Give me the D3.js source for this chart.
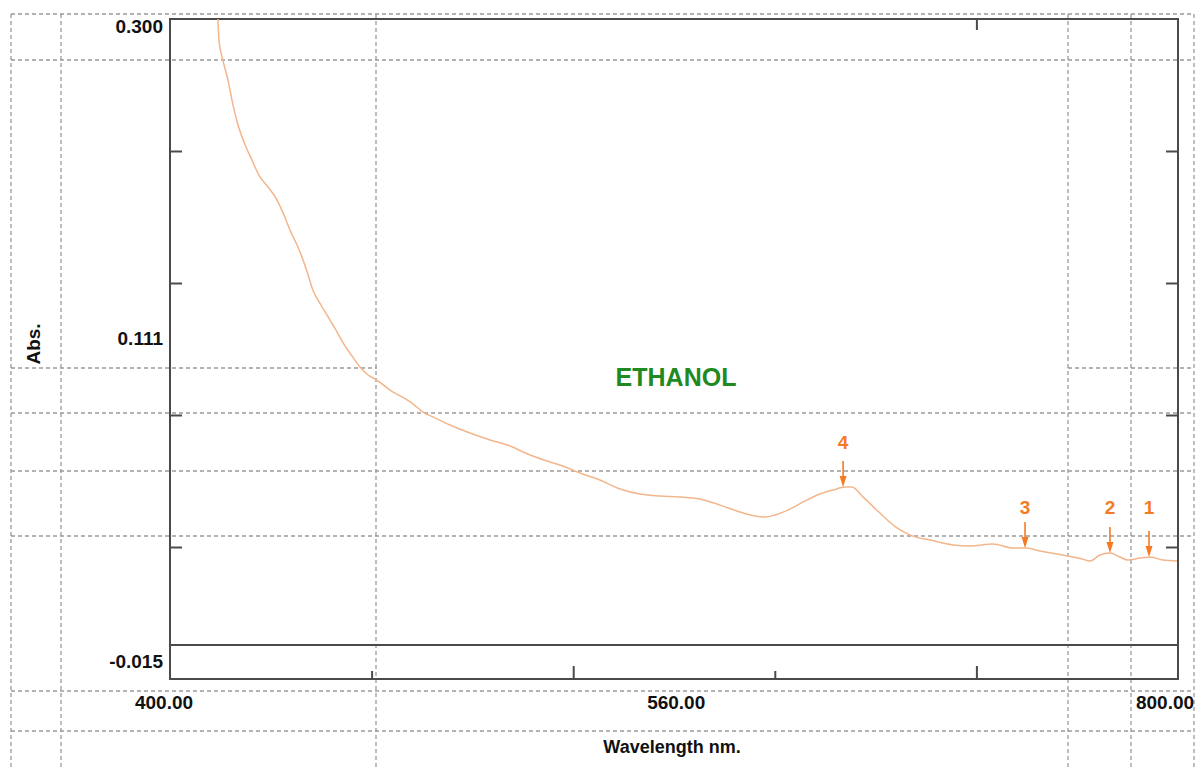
<!DOCTYPE html>
<html>
<head>
<meta charset="utf-8">
<script src="https://cdn.jsdelivr.net/npm/d3@7"></script>
<style>
  html, body { margin: 0; padding: 0; background: #fff; }
  svg { display: block; }
  text { font-family: "Liberation Sans", Arial, sans-serif; font-weight: bold; }
</style>
</head>
<body>
<svg id="chart" width="1195" height="769"></svg>
<script>
// ---------------- DATA ----------------
const wavelengths = [417.9, 419.0, 419.4, 421.0, 423.0, 424.6, 427.0, 429.8, 432.5, 435.7,
  438.9, 442.5, 445.2, 447.6, 450.4, 452.8, 454.8, 456.7, 459.9, 463.5,
  466.3, 468.7, 472.2, 475.4, 478.6, 482.1, 487.3, 491.3, 496.0, 500.4,
  505.2, 511.1, 519.0, 527.0, 534.9, 542.9, 550.8, 556.8, 562.7, 570.6,
  578.6, 586.5, 594.4, 602.4, 610.3, 618.3, 626.2, 632.1, 636.1, 640.1,
  646.0, 652.0, 657.9, 663.1, 667.9, 670.6, 675.0, 681.7, 688.5, 694.8,
  701.6, 710.7, 717.5, 726.6, 734.5, 740.1, 745.2, 752.0, 758.3, 761.9,
  765.1, 769.0, 773.0, 777.0, 780.2, 784.9, 788.9, 794.0, 799.6];
const absorbance = [0.3052, 0.3000, 0.2900, 0.2804, 0.2709, 0.2613, 0.2494, 0.2399, 0.2327, 0.2246,
  0.2198, 0.2136, 0.2065, 0.1993, 0.1921, 0.1850, 0.1778, 0.1707, 0.1635, 0.1563,
  0.1506, 0.1454, 0.1392, 0.1339, 0.1301, 0.1277, 0.1229, 0.1201, 0.1167, 0.1124,
  0.1096, 0.1062, 0.1024, 0.0991, 0.0962, 0.0919, 0.0886, 0.0862, 0.0833, 0.0800,
  0.0757, 0.0733, 0.0723, 0.0719, 0.0709, 0.0680, 0.0647, 0.0628, 0.0623, 0.0633,
  0.0661, 0.0700, 0.0733, 0.0752, 0.0766, 0.0766, 0.0719, 0.0642, 0.0571, 0.0532,
  0.0513, 0.0490, 0.0485, 0.0494, 0.0475, 0.0475, 0.0461, 0.0447, 0.0432, 0.0423,
  0.0413, 0.0442, 0.0451, 0.0432, 0.0418, 0.0427, 0.0432, 0.0418, 0.0413];

const peakNumbers = ["4", "3", "2", "1"];
const peakWavelengths = [667.1, 739.3, 773.0, 788.5];
const peakAbsorbance = [0.0766, 0.0475, 0.0451, 0.0432];

const xDomain = [400, 800];
const yDomain = [-0.015, 0.300];
const xTickLabels = ["400.00", "560.00", "800.00"];
const xTickLabelValues = [400, 560, 800];
const yTickLabels = ["0.300", "0.111", "-0.015"];
const yTickLabelValues = [0.300, 0.111, -0.015];
const xMinorTicks = [480, 640];
const xMajorTicks = [560, 720];
const yTicks = [0.237, 0.174, 0.111, 0.048];
const baselineValue = 0;
const sampleName = "ETHANOL";
const xTitle = "Wavelength nm.";
const yTitle = "Abs.";

// ---------------- LAYOUT ----------------
const svg = d3.select("#chart");
const L = 170, R = 1178, T = 19, B = 679;
const x = d3.scaleLinear().domain(xDomain).range([L, R]);
const y = d3.scaleLinear().domain(yDomain).range([B, T]);

svg.append("rect").attr("width", 1195).attr("height", 769).attr("fill", "#fff");

// page table dashed lines (decoration)
const grid = svg.append("g").attr("stroke", "#9a9a9a").attr("stroke-width", 1.3)
  .attr("stroke-dasharray", "4,3").attr("fill", "none");
const hLines = [[14, 11, 1194], [60, 11, 1194], [368, 11, 377], [368, 1068, 1194],
  [413, 11, 1194], [471, 11, 1194], [536, 11, 1194], [691, 11, 1194], [731, 11, 1194]];
hLines.forEach(d => grid.append("line").attr("x1", d[1]).attr("x2", d[2]).attr("y1", d[0]).attr("y2", d[0]));
const vLines = [11, 61, 376, 1068, 1131, 1194];
vLines.forEach(v => grid.append("line").attr("x1", v).attr("x2", v).attr("y1", 14).attr("y2", 769));

// frame
const frameColor = "#4a4a4a";
svg.append("rect").attr("x", L).attr("y", T).attr("width", R - L).attr("height", B - T)
  .attr("fill", "none").attr("stroke", frameColor).attr("stroke-width", 2);

// baseline
svg.append("line").attr("x1", L).attr("x2", R).attr("y1", y(baselineValue) - 2.5).attr("y2", y(baselineValue) - 2.5)
  .attr("stroke", frameColor).attr("stroke-width", 2);

// axes ticks (inward) via d3 axes
function styleAxis(g) {
  g.select(".domain").remove();
  g.selectAll(".tick line").attr("stroke", frameColor).attr("stroke-width", 2);
  g.selectAll(".tick text").remove();
}
svg.append("g").attr("transform", `translate(0,${B})`)
  .call(d3.axisBottom(x).tickValues(xMinorTicks).tickSize(-8)).call(styleAxis);
svg.append("g").attr("transform", `translate(0,${B})`)
  .call(d3.axisBottom(x).tickValues(xMajorTicks).tickSize(-13)).call(styleAxis);
svg.append("g").attr("transform", `translate(0,${T})`)
  .call(d3.axisTop(x).tickValues([720]).tickSize(-11)).call(styleAxis);
svg.append("g").attr("transform", `translate(${L},0)`)
  .call(d3.axisLeft(y).tickValues(yTicks).tickSize(-12)).call(styleAxis);
svg.append("g").attr("transform", `translate(${R},0)`)
  .call(d3.axisRight(y).tickValues(yTicks).tickSize(-12)).call(styleAxis);

// tick labels (placed as in the original print)
const yLabelNudge = [7, -77, -18];
svg.append("g").selectAll("text").data(yTickLabels).join("text")
  .attr("x", L - 7).attr("y", (d, i) => y(yTickLabelValues[i]) + yLabelNudge[i])
  .attr("text-anchor", "end").attr("dominant-baseline", "central")
  .attr("font-size", 19).attr("fill", "#111").text(d => d);

const xLabelNudge = [-6, 103, -13];
svg.append("g").selectAll("text").data(xTickLabels).join("text")
  .attr("x", (d, i) => x(xTickLabelValues[i]) + xLabelNudge[i]).attr("y", 702)
  .attr("text-anchor", "middle").attr("dominant-baseline", "central")
  .attr("font-size", 19).attr("fill", "#111").text(d => d);

svg.append("text").attr("x", 672).attr("y", 747).attr("text-anchor", "middle")
  .attr("dominant-baseline", "central").attr("font-size", 18).attr("fill", "#111").text(xTitle);

svg.append("text").attr("transform", "translate(33,344) rotate(-90)").attr("text-anchor", "middle")
  .attr("dominant-baseline", "central").attr("font-size", 19).attr("fill", "#111").text(yTitle);

// clip + curve
svg.append("clipPath").attr("id", "plotclip").append("rect")
  .attr("x", L).attr("y", T).attr("width", R - L).attr("height", B - T);
const pts = wavelengths.map((w, i) => [w, absorbance[i]]);
svg.append("path").datum(pts).attr("clip-path", "url(#plotclip)")
  .attr("d", d3.line().x(d => x(d[0])).y(d => y(d[1])).curve(d3.curveMonotoneX))
  .attr("fill", "none").attr("stroke", "#f3b68c").attr("stroke-width", 1.5);

// sample name
svg.append("text").attr("x", 676).attr("y", 377).attr("text-anchor", "middle")
  .attr("dominant-baseline", "central").attr("font-size", 25).attr("fill", "#1f8a1f").text(sampleName);

// peak markers
const peakColor = "#f57a22";
const labelLift = [45, 41, 46, 50];
const pk = svg.append("g");
peakNumbers.forEach((n, i) => {
  const px = x(peakWavelengths[i]), py = y(peakAbsorbance[i]);
  pk.append("line").attr("x1", px).attr("x2", px).attr("y1", py - 26).attr("y2", py - 8)
    .attr("stroke", peakColor).attr("stroke-width", 1.6);
  pk.append("path").attr("d", `M${px - 3.5},${py - 11} L${px + 3.5},${py - 11} L${px},${py} Z`)
    .attr("fill", peakColor);
  pk.append("text").attr("x", px).attr("y", py - labelLift[i]).attr("text-anchor", "middle")
    .attr("dominant-baseline", "central").attr("font-size", 19).attr("fill", peakColor).text(n);
});
</script>
</body>
</html>
